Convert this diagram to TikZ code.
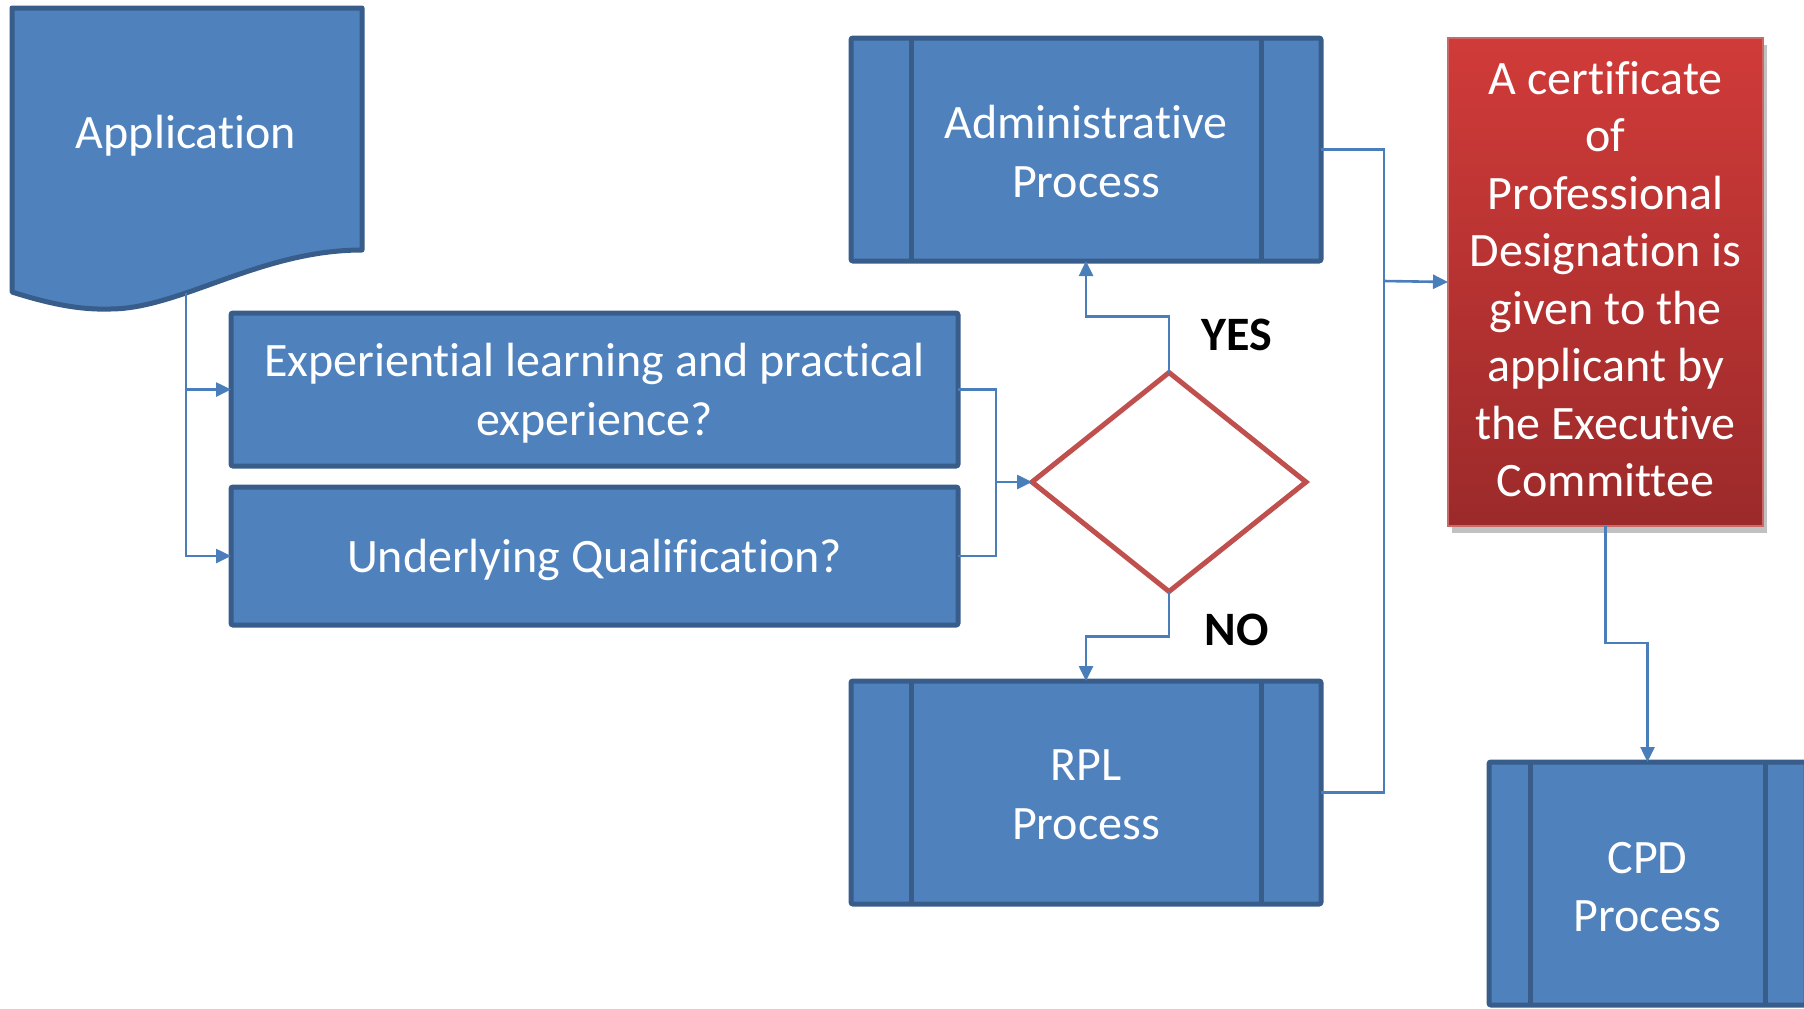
\documentclass[tikz,border=0pt]{standalone}
\usepackage{fontspec}
\setmainfont{Carlito}[Ligatures=NoCommon, Contextuals=NoAlternate]
\usetikzlibrary{shapes.geometric,arrows.meta,shadows}
\definecolor{boxfill}{HTML}{4F81BD}
\definecolor{boxline}{HTML}{385D8A}
\definecolor{connc}{HTML}{4A7EBB}
\definecolor{diared}{HTML}{C0504D}
\definecolor{redtop}{HTML}{D03B39}
\definecolor{redbot}{HTML}{9C2A2A}
\newcommand{\mainfs}{\fontsize{24}{29.3}\selectfont}
\newcommand{\redfs}{\fontsize{24}{28.75}\selectfont}
\newcommand{\lblfs}{\fontsize{24}{28}\selectfont\bfseries}
\begin{document}
\begin{tikzpicture}[x=0.5pt,y=-0.5pt,
  box/.style={draw=boxline, fill=boxfill, line width=2.5pt, rounded corners=1pt,
    inner sep=0pt, outer sep=0pt},
  btext/.style={text=white, font=\mainfs, align=center, inner sep=0pt},
  subline/.style={draw=boxline, line width=2.5pt},
  conn/.style={draw=connc, line width=1.3pt},
  arr/.style={conn, -{Triangle[length=7.5pt,width=7pt]}},
  redbox/.style={draw=diared!85!white, line width=0.6pt, top color=redtop, bottom color=redbot,
    inner sep=0pt, outer sep=0pt,
    drop shadow={shadow xshift=2pt, shadow yshift=-3.5pt, opacity=0.35, fill=black!70}},
  rtext/.style={text=white, font=\redfs, align=center, inner sep=0pt},
  decision/.style={diamond, draw=diared, line width=2.5pt, inner sep=0pt, outer sep=0pt},
  lbl/.style={text=black, font=\lblfs, inner sep=0pt}]
\useasboundingbox (0,0) rectangle (1804,1008);
\clip (0,0) rectangle (1804,1008);

% Application document shape
\draw[draw=boxline, fill=boxfill, line width=2.5pt, line join=round]
  (12,8) -- (362,8) -- (362,250)
  .. controls (260,250) and (180,309) .. (110,309)
  .. controls (80,310) and (50,304) .. (12,292) -- cycle;
\node[btext] (app) at (186,135.5) {Application};
\coordinate (appb) at (186,293);

% question boxes
\node[box, minimum width=363.5pt, minimum height=76.5pt] (exp) at (594.5,389.5) {};
\node[btext] (expt) at ([yshift=-1.75pt]exp.center) {Experiential learning and practical\\experience?};
\node[box, minimum width=363.5pt, minimum height=69pt] (und) at (594.5,556) {};
\node[btext] (undt) at ([yshift=-1.75pt]und.center) {Underlying Qualification?};

% decision
\node[decision, minimum width=137pt, minimum height=109.5pt] (dia) at (1169,482) {};

% process boxes
\node[box, minimum width=235pt, minimum height=111.5pt] (adm) at (1086,149.5) {};
\draw[subline] ([xshift=30pt]adm.north west) -- ([xshift=30pt]adm.south west);
\draw[subline] ([xshift=-30pt]adm.north east) -- ([xshift=-30pt]adm.south east);
\node[btext] (admt) at ([yshift=-1pt]adm.center) {Administrative\\Process};

\node[box, minimum width=235pt, minimum height=111.5pt] (rpl) at (1086,792.5) {};
\draw[subline] ([xshift=30pt]rpl.north west) -- ([xshift=30pt]rpl.south west);
\draw[subline] ([xshift=-30pt]rpl.north east) -- ([xshift=-30pt]rpl.south east);
\node[btext] (rplt) at ([yshift=-1pt]rpl.center) {RPL\\Process};

\node[box, minimum width=158.5pt, minimum height=121.5pt] (cpd) at (1647.5,883.5) {};
\draw[subline] ([xshift=20.5pt]cpd.north west) -- ([xshift=20.5pt]cpd.south west);
\draw[subline] ([xshift=-20.5pt]cpd.north east) -- ([xshift=-20.5pt]cpd.south east);
\node[btext] (cpdt) at ([yshift=-1.75pt]cpd.center) {CPD\\Process};

% certificate
\node[redbox, minimum width=157.5pt, minimum height=244pt] (red) at (1605.5,282) {};
\node[rtext] (redt) at ([yshift=1.4pt]red.center)
  {A certificate\\of\\Professional\\Designation is\\given to the\\applicant by\\the Executive\\Committee};

% labels
\node[lbl] (yes) at (1237,335) {YES};
\node[lbl] (no) at (1237,630) {NO};

% connectors
\draw[arr] (appb) |- (exp.west);
\draw[arr] (appb) |- (und.west);
\coordinate (mj) at (996,482);
\draw[conn] (exp.east) -| (mj);
\draw[conn] (und.east) -| (mj);
\draw[arr] (mj) -- (dia.west);
\draw[arr] (dia.north) -- ++(0,-56) -| (adm.south);
\draw[arr] (dia.south) -- ++(0,45) -| (rpl.north);
\coordinate (rj) at (1384,281);
\draw[conn] (adm.east) -| (rj);
\draw[conn] (rpl.east) -| (rj);
\draw[arr] (rj) -- (red.west);
\draw[arr] (red.south) -- ++(0,117) -| (cpd.north);
\end{tikzpicture}
\end{document}
